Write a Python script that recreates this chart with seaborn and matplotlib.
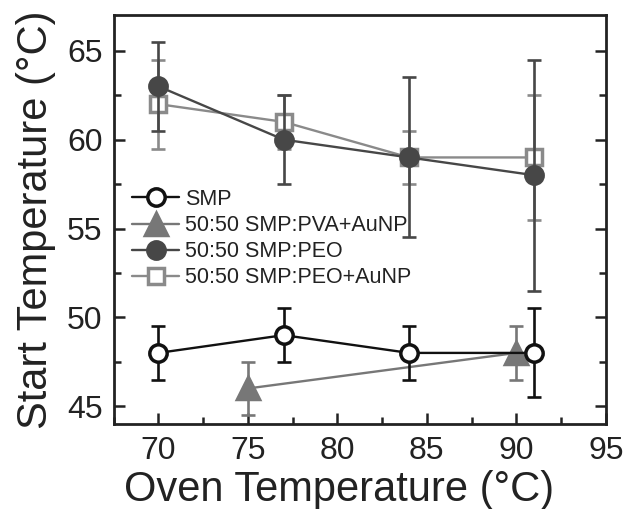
import matplotlib
matplotlib.use("Agg")
import matplotlib.pyplot as plt
import seaborn as sns
import pandas as pd
from matplotlib.ticker import MultipleLocator

# ---- data ----
smp_x = [70, 77, 84, 91]
smp_y = [48, 49, 48, 48]
smp_err = [1.5, 1.5, 1.5, 2.5]

pva_x = [75, 90]
pva_y = [46, 48]
pva_err = [1.5, 1.5]

peo_x = [70, 77, 84, 91]
peo_y = [63, 60, 59, 58]
peo_err = [2.5, 2.5, 4.5, 6.5]

peoau_x = [70, 77, 84, 91]
peoau_y = [62, 61, 59, 59]
peoau_err = [2.5, 1.5, 1.5, 3.5]

labels = ["SMP", "50:50 SMP:PVA+AuNP", "50:50 SMP:PEO", "50:50 SMP:PEO+AuNP"]

sns.set_style("ticks")
plt.rcParams['font.family'] = ['Liberation Sans', 'DejaVu Sans']

fig = plt.figure(figsize=(6.39, 5.09), dpi=100)
ax = fig.add_axes([0.178, 0.167, 0.770, 0.803])

series = [
    # label, x, y, err, color, marker, ms, mfc, zorder
    (labels[3], peoau_x, peoau_y, peoau_err, "#8a8a8a", "s", 11, "white", 3),
    (labels[2], peo_x, peo_y, peo_err, "#474747", "o", 12.5, "#474747", 4),
    (labels[1], pva_x, pva_y, pva_err, "#777777", "^", 16, "#777777", 5),
    (labels[0], smp_x, smp_y, smp_err, "#111111", "o", 12.5, "white", 6),
]

for lab, xs, ys, es, col, mk, ms, mfc, z in series:
    df = pd.DataFrame({"x": xs, "y": ys})
    ax.errorbar(xs, ys, yerr=es, fmt="none", ecolor=col, elinewidth=1.9,
                capsize=4.7, capthick=1.9, zorder=z - 0.5)
    sns.lineplot(data=df, x="x", y="y", ax=ax, color=col, marker=mk,
                 markersize=ms, markerfacecolor=mfc, markeredgecolor=col,
                 markeredgewidth=2.5, linewidth=1.7, zorder=z, label=lab)

ax.set_xlim(67.5, 95)
ax.set_ylim(44, 67)
ax.xaxis.set_major_locator(MultipleLocator(5))
ax.xaxis.set_minor_locator(MultipleLocator(2.5))
ax.yaxis.set_major_locator(MultipleLocator(5))
ax.yaxis.set_minor_locator(MultipleLocator(2.5))
ax.tick_params(which="both", direction="in", left=True, right=True,
               bottom=True, top=False, width=1.8, colors="#222222",
               labelsize=23)
ax.tick_params(axis="x", pad=8.5)
ax.tick_params(axis="y", pad=8)
ax.tick_params(which="major", length=8)
ax.tick_params(which="minor", length=5)
for sp in ax.spines.values():
    sp.set_linewidth(2)
    sp.set_color("#222222")

ax.set_xlabel("Oven Temperature (°C)", fontsize=30, color="#222222", labelpad=3)
ax.xaxis.label.set_x(0.457)
ax.set_ylabel("Start Temperature (°C)", fontsize=30, color="#222222", labelpad=8)

h, l = ax.get_legend_handles_labels()
order = [l.index(x) for x in labels]
ax.legend([h[i] for i in order], [l[i] for i in order], loc="upper left",
          bbox_to_anchor=(0.028, 0.5856), frameon=False, fontsize=15.5,
          handlelength=2.2, handletextpad=0.28, labelspacing=0.24,
          borderaxespad=0, borderpad=0.2, labelcolor="#222222")

fig.savefig("out.png", dpi=100)
